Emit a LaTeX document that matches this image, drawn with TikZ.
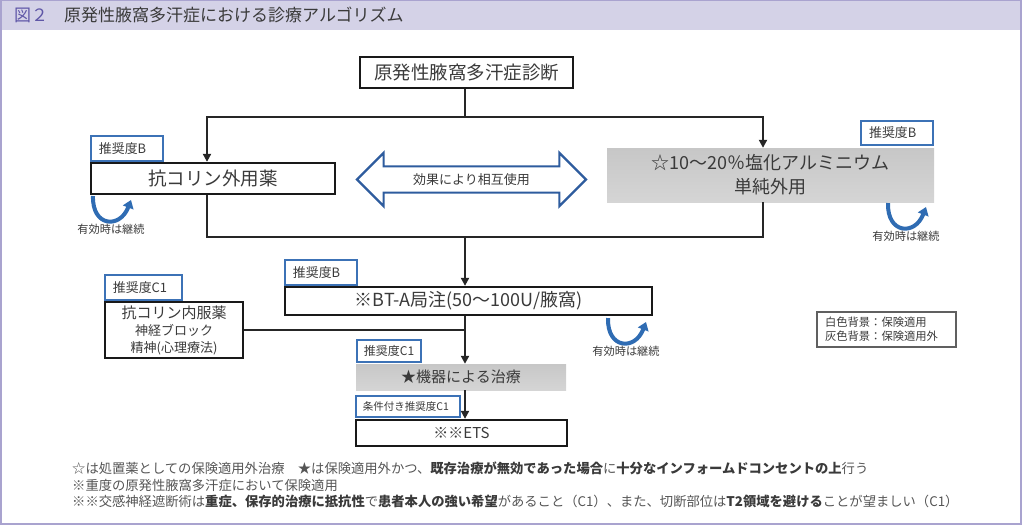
\documentclass[tikz,border=0pt]{standalone}
\usepackage{fontspec}
\setmainfont{Noto Sans CJK JP}
\usetikzlibrary{arrows.meta,shapes.arrows}
\definecolor{ink}{HTML}{3A3A3A}
\definecolor{foottxt}{HTML}{555555}
\definecolor{badgeblue}{HTML}{3C72B6}
\definecolor{loopblue}{HTML}{2F6CB3}
\definecolor{arrowblue}{HTML}{2E5C9E}
\definecolor{framelilac}{HTML}{A9A3CF}
\definecolor{headlilac}{HTML}{D4D2E7}
\definecolor{titlepurple}{HTML}{5F57A7}
\newcommand{\fsz}[2]{\fontsize{#1}{#2}\selectfont}
\newcommand{\stressed}[1]{{\bfseries\color{ink}#1}}
\begin{document}
\begin{tikzpicture}[x=1pt,y=-1pt,
  box/.style={draw=black!90,line width=2.3pt,text=ink,inner sep=0pt,align=center,font=\fsz{18.5}{22}},
  greybox/.style={top color=gray!44,bottom color=gray!33,text=ink,inner sep=0pt,align=center},
  badge/.style={draw=badgeblue,line width=2.2pt,fill=white,text=ink,inner sep=0pt,
    inner xsep=8pt,text width=#1,align=left,anchor=south west,font=\fsz{12.9}{15}},
  link/.style={draw=black!85,line width=2.2pt},
  flow/.style={link,-{Triangle[length=8pt,width=8pt]}},
  keep/.style={draw=loopblue,line width=4pt,-{Triangle[length=8pt,width=11pt]}},
  note/.style={text=ink,font=\fsz{11.2}{13},inner sep=0pt},
  foot/.style={anchor=west,inner sep=0pt,text=foottxt,font=\fsz{13.3}{16}}]
\useasboundingbox (0,0) rectangle (1024,527);
% frame and heading
\fill[headlilac] (1,0) rectangle (1021,30);
\draw[framelilac,line width=2pt] (1,0) rectangle (1021,524);
\node[anchor=west,inner sep=0pt,text=titlepurple,font=\fsz{17}{18}] (fig) at (14,15) {図２};
\node[anchor=west,inner sep=0pt,text=ink,font=\fsz{17}{18}] (title) at (64,15) {原発性腋窩多汗症における診療アルゴリズム};
% boxes
\node[box,minimum width=213,minimum height=31] (diag) at (466.5,72.5) {原発性腋窩多汗症診断};
\node[box,minimum width=244,minimum height=31] (ext) at (213,178.5) {抗コリン外用薬};
\node[greybox,minimum width=327,minimum height=54,font=\fsz{18}{24}] (alum) at (770.5,175) {☆10～20％塩化アルミニウム\\単純外用};
\node[double arrow,draw=arrowblue,line width=2.2pt,fill=white,minimum height=229,
  double arrow head extend=13.5pt,inner xsep=0pt,inner ysep=6pt,text=ink,font=\fsz{13}{15}] (swap) at (471.5,179.5) {効果により相互使用};
\node[box,minimum width=367,minimum height=28,font=\fsz{18}{22}] (bt) at (468.5,301) {※BT-A局注(50～100U/腋窩)};
\node[box,minimum width=138,minimum height=56,font=\fsz{15}{17}] (oral) at (174,330) {抗コリン内服薬\\\fsz{13}{16.5}神経ブロック\\\fsz{13}{16.5}精神(心理療法)};
\node[greybox,minimum width=210,minimum height=26,font=\fsz{15}{18}] (dev) at (461,377) {★機器による治療};
\node[box,minimum width=211,minimum height=26,font=\fsz{15}{18}] (ets) at (461.5,433) {※※ETS};
% grades
\node[badge=56pt,minimum height=25] (bext) at (ext.north west) {推奨度B};
\node[badge=56pt,minimum height=24,anchor=south east,yshift=2pt] (balum) at (alum.north east) {推奨度B};
\node[badge=56pt,minimum height=25] (bbt) at (bt.north west) {推奨度B};
\node[badge=61pt,minimum height=25] (boral) at (oral.north west) {推奨度C1};
\node[badge=50pt,inner xsep=7pt,minimum height=22,yshift=1pt,font=\fsz{12}{14}] (bdev) at (dev.north west) {推奨度C1};
\node[badge=90pt,inner xsep=7pt,minimum height=21,yshift=1pt,font=\fsz{10.5}{12}] (bets) at (ets.north west) {条件付き推奨度C1};
% legend
\node[draw=gray!75!black,line width=1.2pt,minimum height=35,inner xsep=8pt,text width=123pt,
  align=left,text=ink,font=\fsz{11.3}{14}] (legend) at (886.5,329.5) {白色背景：保険適用\\灰色背景：保険適用外};
% connectors
\coordinate (axis) at (465,0);
\coordinate (sl) at (207,117);
\coordinate (sr) at (763,117);
\coordinate (ml) at (207,237);
\coordinate (mr) at (763,237);
\draw[flow] (axis |- diag.south) -- (axis |- sl) -- (sl) -- (sl |- ext.north);
\draw[flow] (axis |- sl) -- (sr) -- (sr |- alum.north);
\draw[link] (sl |- ext.south) -- (ml) -- (mr) -- (sr |- alum.south);
\draw[flow] (axis |- ml) -- (axis |- bt.north);
\draw[link] (oral.east) -- (oral.east -| axis);
\draw[flow] (axis |- bt.south) -- (axis |- dev.north);
\draw[flow] (axis |- dev.south) -- (axis |- ets.north);
% keep going when effective
\foreach \x/\y [count=\i] in {93/196,888/203,608/318}{
  \draw[keep] (\x,\y) .. controls (\x-1,\y+31) and (\x+27,\y+33) .. (\x+38,\y+4);
  \node[note] (cont\i) at (\x+18,\y+33) {有効時は継続};
}
% notes
\node[foot] (n1) at (72,468) {☆は処置薬としての保険適用外治療　★は保険適用外かつ、\stressed{既存治療が無効であった場合}に\stressed{十分なインフォームドコンセントの上}行う};
\node[foot] (n2) at (72,485) {※重度の原発性腋窩多汗症において保険適用};
\node[foot] (n3) at (72,501) {※※交感神経遮断術は\stressed{重症、保存的治療に抵抗性}で\stressed{患者本人の強い希望}があること（C1）、また、切断部位は\stressed{T2領域を避ける}ことが望ましい（C1）};
\end{tikzpicture}
\end{document}
